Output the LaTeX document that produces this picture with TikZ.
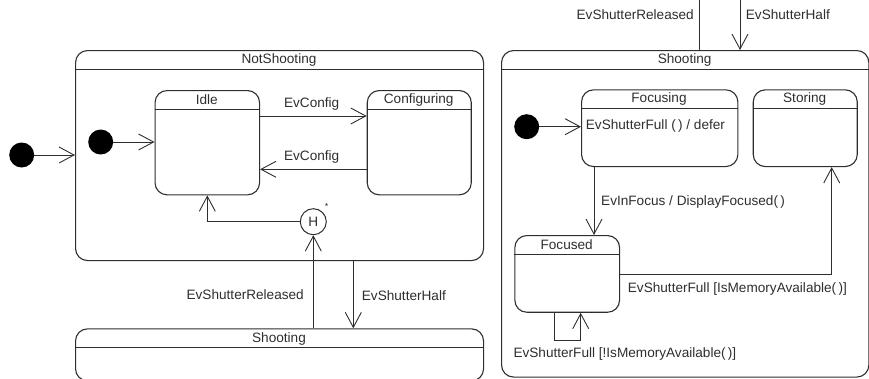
\documentclass[tikz,border=0pt]{standalone}
\usepackage{fontspec}
\setmainfont{Liberation Sans}
\usetikzlibrary{arrows.meta,calc}
\definecolor{ink}{rgb}{0.18,0.18,0.18}
\begin{document}
\begin{tikzpicture}[x=1pt,y=-1pt,
  every node/.style={font=\fontsize{13.6}{16}\selectfont, text=ink, inner sep=0pt},
  statebox/.style={draw=ink, line width=1.1pt, rounded corners=12pt, anchor=north west},
  initdot/.style={circle, fill=black, minimum size=25pt},
  arr/.style={draw=ink, line width=0.9pt, -{Straight Barb[length=15pt,width=16pt,line width=0.9pt]}},
  ln/.style={draw=ink, line width=0.9pt},
  hdr/.style={draw=ink, line width=1pt}]
\useasboundingbox (0,0) rectangle (869,378);
% ---------- NotShooting ----------
\node[statebox, minimum width=408pt, minimum height=210pt] (ns) at (75,50) {};
\draw[hdr] ([yshift=-19.3pt]ns.north west) -- ([yshift=-19.3pt]ns.north east);
\node (nst) at (279,60) {NotShooting};
\node[statebox, minimum width=104.5pt, minimum height=104.3pt] (idle) at (154.5,90) {};
\draw[hdr] ([yshift=-19.5pt]idle.north west) -- ([yshift=-19.5pt]idle.north east);
\node (idlet) at (206.8,99.5) {Idle};
\node[statebox, minimum width=104pt, minimum height=104.3pt] (cfg) at (366.7,90) {};
\draw[hdr] ([yshift=-19.5pt]cfg.north west) -- ([yshift=-19.5pt]cfg.north east);
\node (cfgt) at (418.7,99.5) {Configuring};
\node[initdot] (i1) at (21.7,155) {};
\node[initdot] (i2) at (100.7,142) {};
\draw[arr] (i1) -- (i1 -| ns.west);
\draw[arr] (i2) -- (i2 -| idle.west);
\coordinate (ya) at (0,116);
\coordinate (yb) at (0,169.3);
\draw[arr] (idle.east |- ya) -- (cfg.west |- ya);
\draw[arr] (cfg.west |- yb) -- (idle.east |- yb);
\node (l1) at (311.7,104) {EvConfig};
\node (l2) at (311.7,157) {EvConfig};
\node[circle, draw=ink, line width=1pt, minimum size=26pt] (H) at (313.3,221.7) {H};
\node[font=\fontsize{9}{10}\selectfont] (ast) at (326.5,206.5) {*};
\draw[arr] (H.west) -| (idle.south);
% ---------- collapsed Shooting ----------
\node[statebox, minimum width=408pt, minimum height=52pt] (bs) at (75,328.3) {};
\draw[hdr] ([yshift=-19.4pt]bs.north west) -- ([yshift=-19.4pt]bs.north east);
\node (bst) at (279,339) {Shooting};
\draw[arr] (bs.north -| H) -- (H.south);
\coordinate (xh) at (353.3,0);
\draw[arr] (ns.south -| xh) -- (bs.north -| xh);
\node[anchor=east] (l3) at (304,295) {EvShutterReleased};
\node[anchor=west] (l4) at (361.7,296) {EvShutterHalf};
% ---------- Shooting ----------
\node[statebox, minimum width=367.3pt, minimum height=326.5pt] (sh) at (501,50) {};
\draw[hdr] ([yshift=-19.3pt]sh.north west) -- ([yshift=-19.3pt]sh.north east);
\node (sht) at (684.6,60) {Shooting};
\coordinate (t1) at (699.3,0);
\coordinate (t2) at (740,0);
\draw[ln] (t1) -- (t1 |- sh.north);
\draw[arr] (t2) -- (t2 |- sh.north);
\node[anchor=east] (l5) at (694,15) {EvShutterReleased};
\node[anchor=west] (l6) at (745.7,15) {EvShutterHalf};
\node[statebox, minimum width=156.3pt, minimum height=76.7pt] (foc) at (581,89.3) {};
\draw[hdr] ([yshift=-19pt]foc.north west) -- ([yshift=-19pt]foc.north east);
\node (foct) at (659,99) {Focusing};
\node[anchor=west] (focb) at (585.7,126) {EvShutterFull (\,) / defer};
\node[statebox, minimum width=104pt, minimum height=76.7pt] (sto) at (752.7,89.3) {};
\draw[hdr] ([yshift=-19pt]sto.north west) -- ([yshift=-19pt]sto.north east);
\node (stot) at (804.7,99) {Storing};
\node[statebox, minimum width=104.7pt, minimum height=76.7pt] (fcd) at (514.3,235) {};
\draw[hdr] ([yshift=-19.7pt]fcd.north west) -- ([yshift=-19.7pt]fcd.north east);
\node (fcdt) at (566.7,245) {Focused};
\node[initdot] (i3) at (526.7,126.7) {};
\draw[arr] (i3) -- (i3 -| foc.west);
\coordinate (xf) at (594,0);
\draw[arr] (foc.south -| xf) -- (fcd.north -| xf);
\node[anchor=west] (l7) at (601,201.7) {EvInFocus / DisplayFocused(\,)};
\coordinate (cs) at (831.7,274.3);
\draw[arr] (fcd.east |- cs) -| (sto.south -| cs);
\node[anchor=west] (l8) at (627.7,289) {EvShutterFull [IsMemoryAvailable(\,)]};
\coordinate (s1) at (554.3,340.7);
\coordinate (s2) at (580.7,340.7);
\draw[arr] (fcd.south -| s1) -- (s1) -- (s2) -- (fcd.south -| s2);
\node[anchor=west] (l9) at (513.3,354.3) {EvShutterFull [!IsMemoryAvailable(\,)]};
\end{tikzpicture}
\end{document}
